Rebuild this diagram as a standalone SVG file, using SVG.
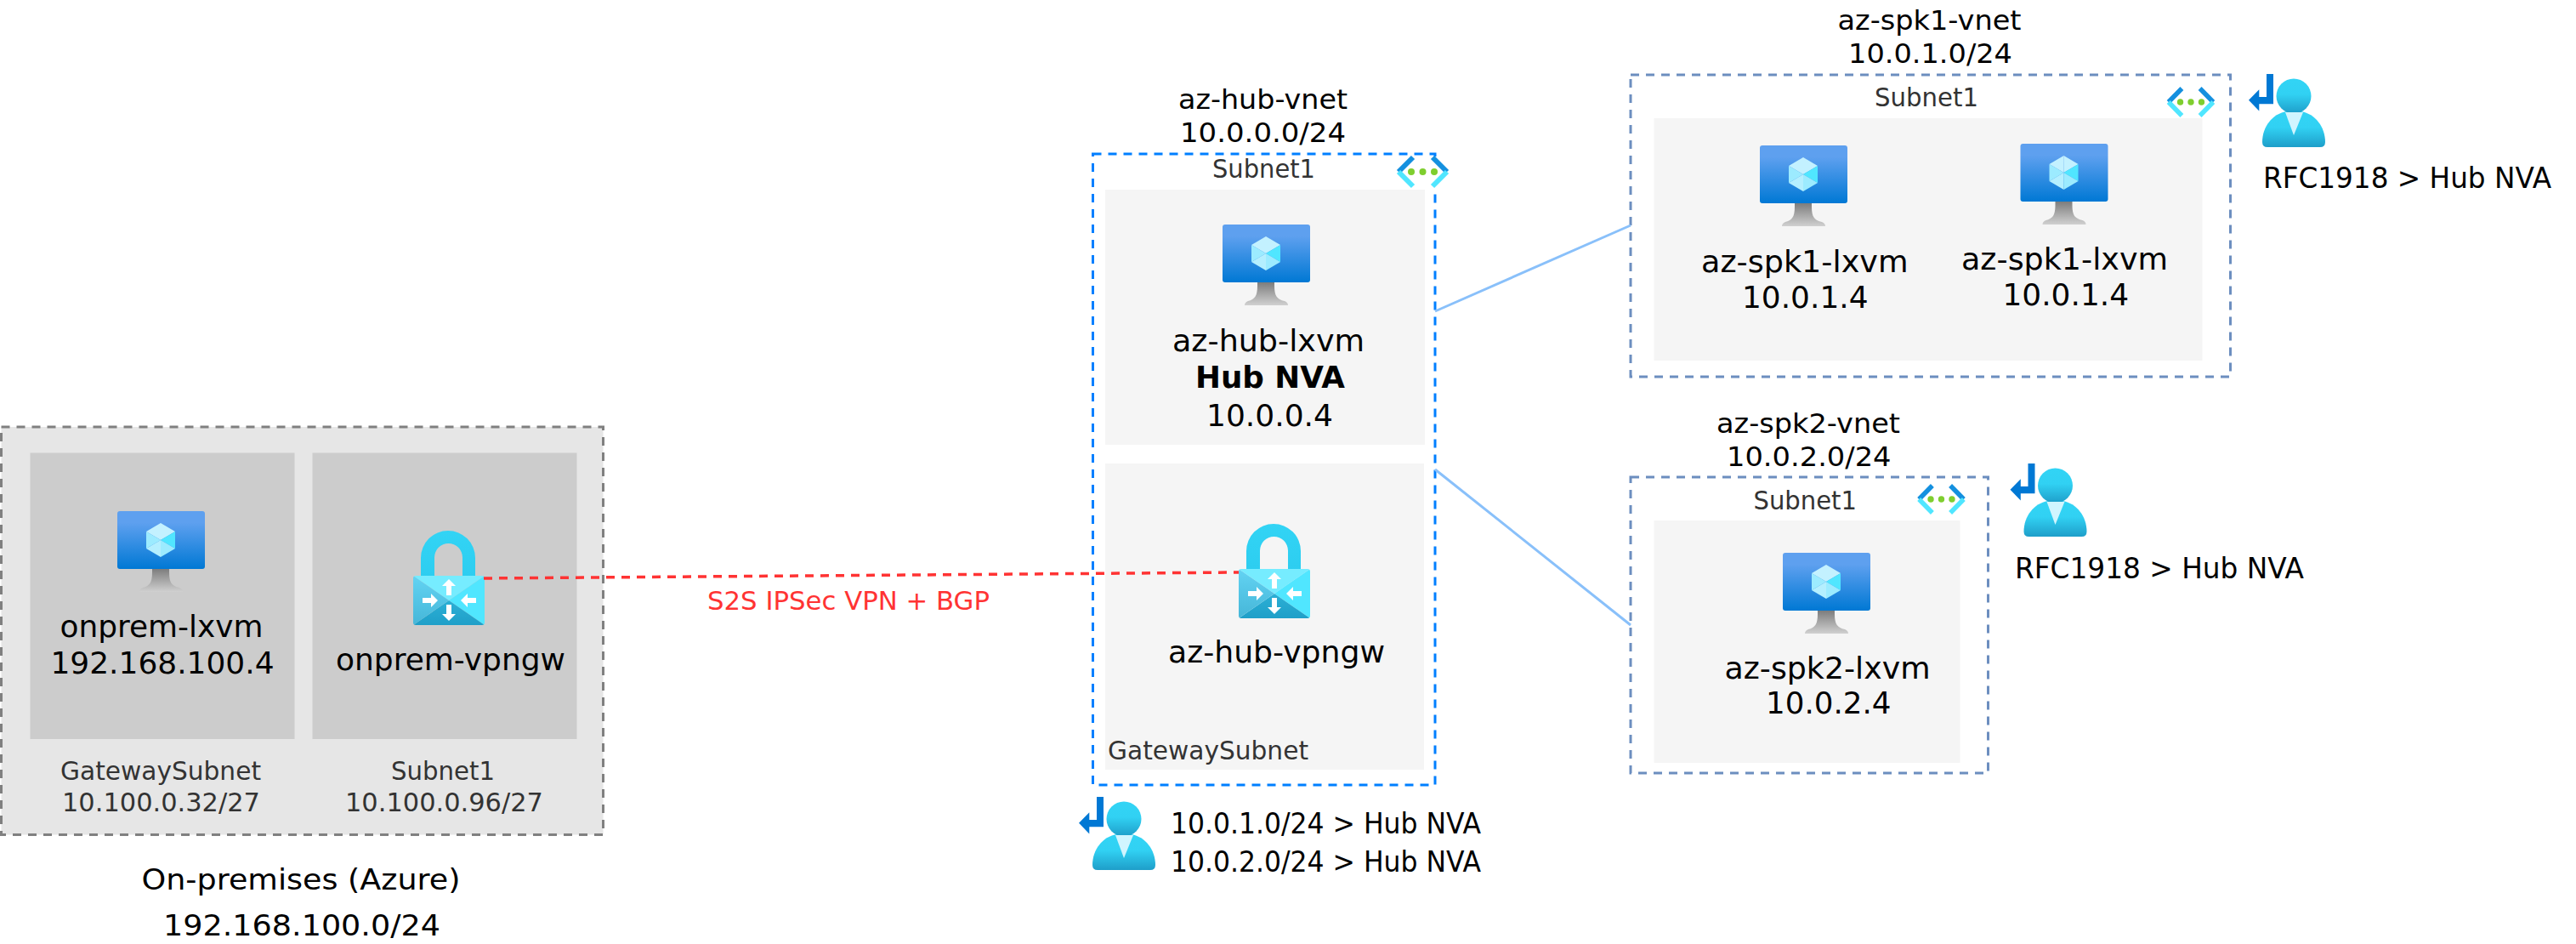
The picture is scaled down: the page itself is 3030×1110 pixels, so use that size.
<svg xmlns="http://www.w3.org/2000/svg" width="3030" height="1110" viewBox="0 0 3030 1110">
<style>
text{font-family:"DejaVu Sans","Liberation Sans",sans-serif;fill:#000}
.l{font-size:36px}
.h{font-size:32px}
.m{font-size:34px}
.s{font-size:30px;fill:#333}
.b{font-size:36px;font-weight:bold}
.r{font-size:30px;fill:#ff3333}
.onprem{fill:#e6e6e6;stroke:#808080;stroke-width:3;stroke-dasharray:10 8}
.hub{fill:#fff;stroke:#007fff;stroke-width:3;stroke-dasharray:10 8}
.spk{fill:#fff;stroke:#6c8ebf;stroke-width:3;stroke-dasharray:10 8}
.sub{fill:#f5f5f5}
.sub2{fill:#cccccc}
.peer{fill:none;stroke:#89c0fa;stroke-width:3}
.vpn{fill:none;stroke:#ff3333;stroke-width:3.5;stroke-dasharray:10 8}
</style>
<defs>
<linearGradient id="gScreen" x1="0" y1="0" x2="0" y2="1"><stop offset="0" stop-color="#5ea0ef"/><stop offset="0.2" stop-color="#5ea0ef"/><stop offset="1" stop-color="#0078d4"/></linearGradient>
<linearGradient id="gStand" x1="0" y1="0" x2="0" y2="1"><stop offset="0" stop-color="#7d7d7d"/><stop offset="1" stop-color="#d0d0d0"/></linearGradient>
<linearGradient id="gShackle" x1="0" y1="0" x2="0" y2="1"><stop offset="0" stop-color="#32d4f5"/><stop offset="1" stop-color="#2dcdf0"/></linearGradient>
<linearGradient id="gLeft" x1="0" y1="0" x2="0" y2="1"><stop offset="0" stop-color="#63d3f3"/><stop offset="1" stop-color="#45b6d8"/></linearGradient>
<linearGradient id="gBottom" x1="0" y1="0" x2="0" y2="1"><stop offset="0" stop-color="#2cb0d6"/><stop offset="1" stop-color="#1f9fc8"/></linearGradient>
<linearGradient id="gUser" x1="0" y1="0" x2="0" y2="1"><stop offset="0" stop-color="#32d4f5"/><stop offset="0.45" stop-color="#31d1f3"/><stop offset="1" stop-color="#1e9ec9"/></linearGradient>
<clipPath id="cBody"><rect x="0" y="0" width="84" height="58" rx="3"/></clipPath>
<g id="vm">
<rect x="0" y="0" width="103" height="68" rx="3" fill="url(#gScreen)"/>
<path d="M41 68H61V72C61 84 64 88 73 90C76 91 77 93 77 95H26C26 93 27 91 30 90C38 88 41 84 41 72Z" fill="url(#gStand)"/>
<polygon points="51,14 68,24 51,34" fill="#c3f1ff"/>
<polygon points="51,14 34,24 51,34" fill="#c3f1ff"/>
<polygon points="34,24 51,34 34,44" fill="#9cebff"/>
<polygon points="68,24 51,34 68,44" fill="#50e6ff"/>
<polygon points="34,44 51,34 51,54" fill="#b4efff"/>
<polygon points="68,44 51,34 51,54" fill="#9cebff"/>
</g>
<g id="lock">
<path d="M9 2V-21A32 32 0 0 1 73 -21V2H58V-21.5A16.5 16.5 0 0 0 25 -21.5V2Z" fill="url(#gShackle)"/>
<g clip-path="url(#cBody)">
<polygon points="0,0 84,0 42,29" fill="#76ecff"/>
<polygon points="84,0 84,58 42,29" fill="#50e6ff"/>
<polygon points="0,58 84,58 42,29" fill="url(#gBottom)"/>
<polygon points="0,0 0,58 42,29" fill="url(#gLeft)"/>
</g>
<polygon fill="#fff" points="42,4 50,12 45,12 45,23 39,23 39,12 34,12"/>
<polygon fill="#fff" points="42,53 50,45 45,45 45,34 39,34 39,45 34,45"/>
<polygon fill="#fff" points="29,29 21,21 21,26 11,26 11,32 21,32 21,37"/>
<polygon fill="#fff" points="56,29 64,21 64,26 74,26 74,32 64,32 64,37"/>
</g>
<g id="net">
<path d="M21 2L4 19" fill="none" stroke="#1490df" stroke-width="6"/>
<path d="M4 19L21 36" fill="none" stroke="#50e6ff" stroke-width="6"/>
<path d="M44 2L61 19" fill="none" stroke="#1490df" stroke-width="6"/>
<path d="M61 19L44 36" fill="none" stroke="#50e6ff" stroke-width="6"/>
<circle cx="19" cy="19" r="4" fill="#7fce2f"/>
<circle cx="32.5" cy="19" r="4" fill="#7fce2f"/>
<circle cx="46" cy="19" r="4" fill="#7fce2f"/>
</g>
<g id="user">
<polygon fill="#0078d4" points="-32,-26 -24,-26 -24,9.3 -40.7,9.3 -40.7,17.5 -53,4.7 -40.7,-7.7 -40.7,1 -32,1"/>
<path d="M-37 54C-37 36 -25 21 -9 18H9C25 21 37 36 37 54Q37 60 31 60H-31Q-37 60 -37 54Z" fill="url(#gUser)"/>
<circle cx="0" cy="0" r="20.5" fill="url(#gUser)"/>
<polygon points="-10,19 11,19 0,46" fill="#d0f5ff"/>
</g>
</defs>
<rect width="3030" height="1110" fill="#fff"/>

<g id="onprem">
<rect class="onprem" x="1.5" y="502" width="708" height="479.5"/>
<rect class="sub2" x="35.5" y="532.5" width="311" height="336.5"/>
<rect class="sub2" x="367.5" y="532.5" width="311" height="336.5"/>
<text class="s" x="71" y="917" textLength="236" lengthAdjust="spacingAndGlyphs">GatewaySubnet</text>
<text class="s" x="73" y="953.5" textLength="233" lengthAdjust="spacingAndGlyphs">10.100.0.32/27</text>
<text class="s" x="460" y="917" textLength="122" lengthAdjust="spacingAndGlyphs">Subnet1</text>
<text class="s" x="406" y="953.5" textLength="233" lengthAdjust="spacingAndGlyphs">10.100.0.96/27</text>
<text class="m" x="166.5" y="1045.5" textLength="375" lengthAdjust="spacingAndGlyphs">On-premises (Azure)</text>
<text class="m" x="192" y="1099.5" textLength="326" lengthAdjust="spacingAndGlyphs">192.168.100.0/24</text>
</g>
<g id="onprem-lxvm">
<use href="#vm" x="138" y="601"/>
<text class="l" x="70.5" y="749" textLength="239" lengthAdjust="spacingAndGlyphs">onprem-lxvm</text>
<text class="l" x="59.5" y="791.5" textLength="263" lengthAdjust="spacingAndGlyphs">192.168.100.4</text>
</g>
<g id="onprem-vpngw">
<use href="#lock" x="486" y="677"/>
<text class="l" x="395" y="787.5" textLength="270" lengthAdjust="spacingAndGlyphs">onprem-vpngw</text>
</g>

<g id="az-hub-vnet">
<rect class="hub" x="1285.5" y="181" width="402.5" height="742"/>
<rect fill="#fff" x="1641" y="184" width="65" height="44"/>
<rect class="sub" x="1300" y="223" width="376" height="300"/>
<rect class="sub" x="1300" y="545" width="375" height="360"/>
<use href="#net" x="1641" y="183"/>
<text class="h" x="1386" y="128" textLength="199" lengthAdjust="spacingAndGlyphs">az-hub-vnet</text>
<text class="h" x="1388" y="167" textLength="195" lengthAdjust="spacingAndGlyphs">10.0.0.0/24</text>
<text class="s" x="1426" y="209" textLength="121" lengthAdjust="spacingAndGlyphs">Subnet1</text>
<text class="s" x="1303" y="893" textLength="236" lengthAdjust="spacingAndGlyphs">GatewaySubnet</text>
</g>
<g id="az-hub-lxvm">
<use href="#vm" x="1438" y="264"/>
<text class="l" x="1379" y="413" textLength="226" lengthAdjust="spacingAndGlyphs">az-hub-lxvm</text>
<text class="b" x="1406" y="456" textLength="176" lengthAdjust="spacingAndGlyphs">Hub NVA</text>
<text class="l" x="1419" y="501" textLength="149" lengthAdjust="spacingAndGlyphs">10.0.0.4</text>
</g>
<g id="az-hub-vpngw">
<use href="#lock" x="1457" y="669"/>
<text class="l" x="1374" y="779" textLength="255" lengthAdjust="spacingAndGlyphs">az-hub-vpngw</text>
</g>
<g id="hub-routes">
<use href="#user" x="1322" y="963"/>
<text class="m" x="1377" y="980" textLength="365" lengthAdjust="spacingAndGlyphs">10.0.1.0/24 &gt; Hub NVA</text>
<text class="m" x="1377" y="1025" textLength="365" lengthAdjust="spacingAndGlyphs">10.0.2.0/24 &gt; Hub NVA</text>
</g>

<g id="az-spk1-vnet">
<rect class="spk" x="1918" y="88" width="705.5" height="355"/>
<rect class="sub" x="1945.5" y="139" width="645" height="285"/>
<g transform="translate(2547 102) scale(0.923 0.947)"><use href="#net"/></g>
<text class="h" x="2161.5" y="35" textLength="216" lengthAdjust="spacingAndGlyphs">az-spk1-vnet</text>
<text class="h" x="2174" y="74" textLength="193" lengthAdjust="spacingAndGlyphs">10.0.1.0/24</text>
<text class="s" x="2205" y="125" textLength="122" lengthAdjust="spacingAndGlyphs">Subnet1</text>
</g>
<g id="az-spk1-lxvm-1">
<use href="#vm" x="2070" y="171"/>
<text class="l" x="2001" y="320" textLength="243.5" lengthAdjust="spacingAndGlyphs">az-spk1-lxvm</text>
<text class="l" x="2049" y="362" textLength="148.5" lengthAdjust="spacingAndGlyphs">10.0.1.4</text>
</g>
<g id="az-spk1-lxvm-2">
<use href="#vm" x="2376.5" y="169"/>
<text class="l" x="2307" y="317" textLength="243" lengthAdjust="spacingAndGlyphs">az-spk1-lxvm</text>
<text class="l" x="2355.5" y="359" textLength="148.5" lengthAdjust="spacingAndGlyphs">10.0.1.4</text>
</g>
<g id="spk1-routes">
<use href="#user" x="2698" y="113"/>
<text class="m" x="2662" y="221" textLength="339" lengthAdjust="spacingAndGlyphs">RFC1918 &gt; Hub NVA</text>
</g>

<g id="az-spk2-vnet">
<rect class="spk" x="1918" y="561" width="420.5" height="348"/>
<rect class="sub" x="1945.5" y="612" width="360" height="285"/>
<g transform="translate(2253.5 569) scale(0.923 0.947)"><use href="#net"/></g>
<text class="h" x="2019" y="509" textLength="216" lengthAdjust="spacingAndGlyphs">az-spk2-vnet</text>
<text class="h" x="2031" y="548" textLength="193.5" lengthAdjust="spacingAndGlyphs">10.0.2.0/24</text>
<text class="s" x="2062.5" y="599" textLength="121.5" lengthAdjust="spacingAndGlyphs">Subnet1</text>
</g>
<g id="az-spk2-lxvm">
<use href="#vm" x="2097" y="650"/>
<text class="l" x="2028.5" y="798" textLength="242" lengthAdjust="spacingAndGlyphs">az-spk2-lxvm</text>
<text class="l" x="2077" y="839" textLength="147.5" lengthAdjust="spacingAndGlyphs">10.0.2.4</text>
</g>
<g id="spk2-routes">
<use href="#user" x="2417.5" y="571"/>
<text class="m" x="2370" y="680" textLength="340" lengthAdjust="spacingAndGlyphs">RFC1918 &gt; Hub NVA</text>
</g>

<g id="connectors">
<line class="peer" x1="1688" y1="366" x2="1918" y2="265"/>
<line class="peer" x1="1688" y1="552" x2="1918" y2="735"/>
<line class="vpn" x1="569" y1="680" x2="1457" y2="673"/>
<text class="r" x="832" y="717" textLength="332" lengthAdjust="spacingAndGlyphs">S2S IPSec VPN + BGP</text>
</g>
</svg>
